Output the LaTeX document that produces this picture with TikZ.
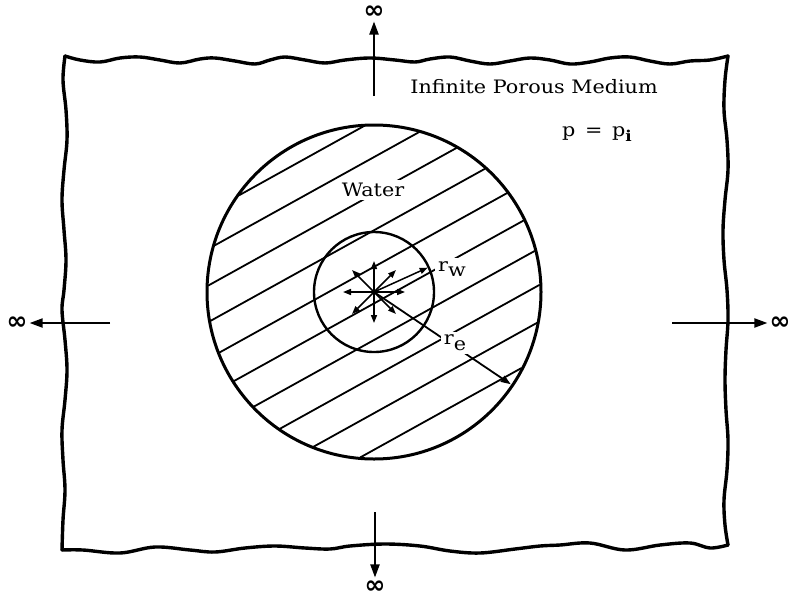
\documentclass[tikz,border=0pt]{standalone}
\usepackage{fontspec}
\setmainfont{DejaVu Serif}[FakeStretch=1.12]
\newfontfamily\symfont{DejaVu Sans}
\usetikzlibrary{arrows.meta,calc}
\begin{document}
\begin{tikzpicture}[x=1pt,y=-1pt,
 border/.style={line width=3.4pt, line join=round, line cap=round},
 bigcircle/.style={line width=3pt},
 smallcircle/.style={line width=2.4pt},
 hatch/.style={line width=1.8pt},
 outarrow/.style={line width=2pt, -{Triangle[length=13pt,width=9pt]}},
 flowarrow/.style={line width=1.5pt, -{Triangle[length=8pt,width=6pt]}},
 lbl/.style={font=\fontsize{18.5}{22}\selectfont, inner sep=1pt},
 gap/.style={lbl, fill=white, inner sep=3pt},
 inf/.style={font=\symfont\bfseries\fontsize{25}{26}\selectfont, inner sep=0pt}]
\useasboundingbox (0,0) rectangle (789,600);

% wavy boundary of the porous medium
\draw[border] plot[smooth,tension=0.6] coordinates {(65,56)(80,60)(100,62)(120,58)(140,57)(160,60)(180,63)(200,59)(215,58)(235,61)(255,64)(270,60)(285,57)(305,60)(325,63)(345,60)(370,58)(395,60)(415,62)(430,59)(450,57)(470,61)(490,64)(510,61)(530,58)(550,60)(570,64)(590,62)(610,58)(630,57)(650,61)(670,64)(690,61)(710,60)(728,56)};
\draw[border] plot[smooth,tension=0.6] coordinates {(728,56)(725,80)(724,110)(727,140)(728,170)(725,200)(723,230)(724,260)(727,290)(728,320)(726,350)(725,380)(726,410)(728,440)(727,470)(724,500)(725,525)(728,545)};
\draw[border] plot[smooth,tension=0.6] coordinates {(62,550)(83,550)(120,553)(155,547)(190,550)(215,552)(245,548)(275,546)(305,548)(330,549)(350,546)(385,544)(420,546)(450,551)(480,553)(515,549)(540,546)(560,545)(590,543)(625,550)(660,545)(690,543)(710,548)(728,545)};
\draw[border] plot[smooth,tension=0.6] coordinates {(65,56)(63,80)(66,110)(67,140)(64,170)(62,200)(64,230)(66,260)(64,290)(62,310)(65,340)(67,370)(65,400)(62,430)(63,460)(65,490)(63,520)(62,550)};

% centre
\coordinate (c) at (374,292);

% circles
\draw[bigcircle] (c) circle (167);
\draw[smallcircle] (c) circle (60);

% hatching of the water region: exact chords of the outer circle,
% drawn after the circles so that they run through the well circle too
\foreach \k in {0,...,9} {
  \pgfmathsetmacro\off{-150+32*\k}
  \pgfmathsetmacro\hl{100*sqrt(2.7556-(\off/100)*(\off/100))}
  \coordinate (hA\k) at ($(c)+({\off*0.4848-\hl*0.8746},{\off*0.8746+\hl*0.4848})$);
  \coordinate (hB\k) at ($(c)+({\off*0.4848+\hl*0.8746},{\off*0.8746-\hl*0.4848})$);
  \draw[hatch] (hA\k) -- (hB\k);
}

% small clear spot round the well axis
\fill[white] (c) circle (8);

% radial flow arrows
\foreach \a in {0,45,...,315} {
  \coordinate (f\a) at ($(c)+(\a:31)$);
  \draw[flowarrow] (c) -- (f\a);
}
\coordinate (rwend) at ($(c)+(-24.4:59)$);
\draw[flowarrow] (c) -- (rwend);

% r_e line
\coordinate (reend) at ($(c)+(34:165)$);
\draw[line width=1.8pt, -{Triangle[length=10pt,width=7pt]}] (c) -- (reend);

% labels
\node[gap] (water) at (373,190) {Water};
\node[gap] (rw) at (452,269) {r\raisebox{-0.6ex}{w}};
\node[gap] (re) at (455,343) {r\raisebox{-0.6ex}{e}};
\node[lbl] (medium) at (534,87) {Infinite Porous Medium};
\node[lbl] (pp) at (597,134) {p \,=\, p\raisebox{-0.5ex}{\fontsize{15}{15}\selectfont\bfseries i}};

% arrows to infinity
\node[inf] (infT) at (374,12) {∞};
\node[inf] (infB) at (375,587) {∞};
\node[inf] (infL) at (17,323) {∞};
\node[inf] (infR) at (780,323) {∞};
\coordinate (tS) at (374,96);
\coordinate (bS) at (375,512);
\coordinate (lS) at (110,323);
\coordinate (rS) at (672,323);
\draw[outarrow, shorten >=3pt] (tS) -- (infT.south);
\draw[outarrow, shorten >=3pt] (bS) -- (infB.north);
\draw[outarrow, shorten >=2pt] (lS) -- (infL.east);
\draw[outarrow, shorten >=2pt] (rS) -- (infR.west);
\end{tikzpicture}
\end{document}
